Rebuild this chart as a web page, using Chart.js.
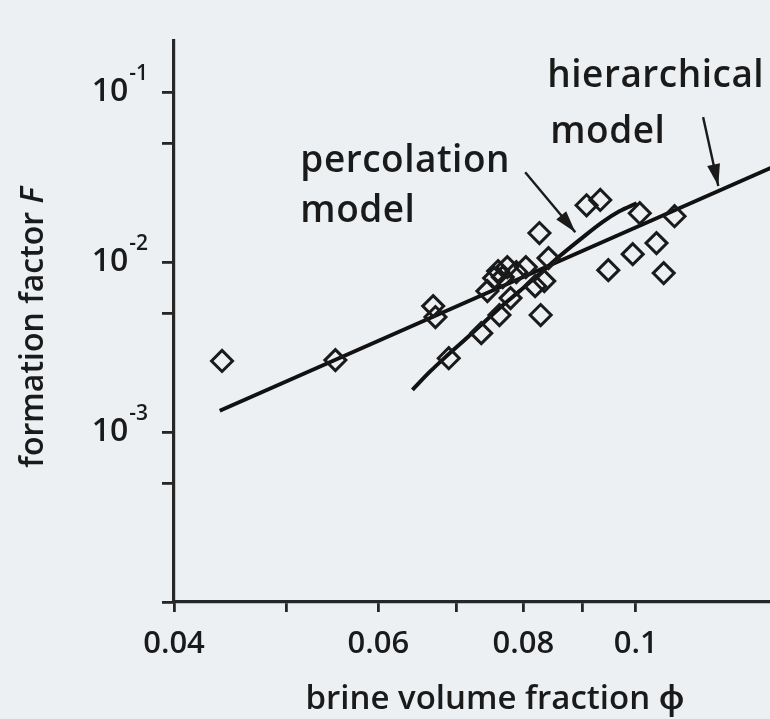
<!DOCTYPE html>
<html>
<head>
<meta charset="utf-8">
<script src="https://cdn.jsdelivr.net/npm/chart.js@4.4.1/dist/chart.umd.min.js"></script>
<style>
  html, body { margin: 0; padding: 0; background: #edf0f2; overflow: hidden; }
  #wrap { width: 830px; height: 719px; }
</style>
</head>
<body>
<div id="wrap"><canvas id="brineChart" width="830" height="719"></canvas></div>
<script>
// measured samples: brine volume fraction vs formation factor
const phiValues = [0.0440, 0.0551, 0.0669, 0.0672, 0.0690, 0.0736, 0.0745, 0.0763, 0.0761, 0.0768,
  0.0775, 0.0789, 0.0780, 0.0804, 0.0819, 0.0834, 0.0841, 0.0826, 0.0828, 0.0907,
  0.0932, 0.1008, 0.0947, 0.0994, 0.1042, 0.1057, 0.1080, 0.0755];
const fValues = [0.00262, 0.00265, 0.00551, 0.00475, 0.00272, 0.00382, 0.00675, 0.00488, 0.00885, 0.00816,
  0.00935, 0.00873, 0.00614, 0.00935, 0.00722, 0.00773, 0.01056, 0.01483, 0.00488, 0.0216,
  0.0232, 0.0194, 0.00897, 0.01114, 0.01294, 0.00862, 0.01862, 0.00805];

// model curves
const hierPhi = [0.0438, 0.1332];
const hierF = [0.001335, 0.0379];
const percPhi = [0.0642, 0.0664, 0.0687, 0.0712, 0.0734, 0.0763, 0.0794, 0.0826, 0.0860, 0.0894, 0.0936, 0.0968, 0.1002];
const percF = [0.00177, 0.00225, 0.0028, 0.00348, 0.0042, 0.00536, 0.00675, 0.0085, 0.01085, 0.01347, 0.0172, 0.0199, 0.0222];

// annotation arrows (start -> tip)
const percArrowPhi = [0.0803, 0.0887];
const percArrowF = [0.0338, 0.0150];
const hierArrowPhi = [0.1143, 0.1178];
const hierArrowF = [0.0713, 0.0280];

// axes
const phiTicks = [0.04, 0.05, 0.06, 0.07, 0.08, 0.09, 0.1];
const phiTickLabels = ["0.04", "", "0.06", "", "0.08", "", "0.1"];
const fTicks = [1e-4, 5e-4, 1e-3, 5e-3, 1e-2, 5e-2, 1e-1];
const fLabelValues = [1e-1, 1e-2, 1e-3];
const fLabelExponents = ["-1", "-2", "-3"];

// text notes
const noteText = ["hierarchical", "model", "percolation", "model"];
const notePhi = [0.0839, 0.0844, 0.0514, 0.0514];
const noteF = [0.107, 0.0505, 0.0338, 0.0172];

const xTitle = "brine volume fraction ϕ";
const yTitleMain = "formation factor ";
const yTitleSymbol = "F";

const ink = "#1a1a1a";
const fontFamily = "'Open Sans', 'Noto Sans', sans-serif";

function toPoints(xs, ys) {
  return xs.map((x, i) => ({ x: x, y: ys[i] }));
}

const arrowHeads = {
  id: "arrowHeads",
  afterDatasetsDraw(chart) {
    const c = chart.ctx;
    chart.data.datasets.forEach((ds, i) => {
      if (!ds.arrowHead) return;
      const pts = chart.getDatasetMeta(i).data;
      const tip = pts[pts.length - 1];
      const prev = pts[pts.length - 2];
      const a = Math.atan2(tip.y - prev.y, tip.x - prev.x);
      const len = 22;
      const half = 6.5;
      c.save();
      c.fillStyle = ink;
      c.beginPath();
      c.moveTo(tip.x, tip.y);
      c.lineTo(tip.x - len * Math.cos(a) + half * Math.sin(a), tip.y - len * Math.sin(a) - half * Math.cos(a));
      c.lineTo(tip.x - len * Math.cos(a) - half * Math.sin(a), tip.y - len * Math.sin(a) + half * Math.cos(a));
      c.closePath();
      c.fill();
      c.restore();
    });
  }
};

const textNotes = {
  id: "textNotes",
  afterDraw(chart) {
    const c = chart.ctx;
    const { x, y } = chart.scales;
    c.save();
    c.fillStyle = ink;
    c.font = "600 37px " + fontFamily;
    c.textAlign = "left";
    c.textBaseline = "alphabetic";
    if ("letterSpacing" in c) c.letterSpacing = "0.5px";
    noteText.forEach((t, i) => {
      c.fillText(t, x.getPixelForValue(notePhi[i]), y.getPixelForValue(noteF[i]));
    });
    c.restore();
  }
};

const powerLabels = {
  id: "powerLabels",
  afterDraw(chart) {
    const c = chart.ctx;
    const y = chart.scales.y;
    const right = y.right - 26;
    c.save();
    c.fillStyle = ink;
    c.textAlign = "right";
    c.textBaseline = "alphabetic";
    fLabelValues.forEach((v, i) => {
      const py = y.getPixelForValue(v);
      c.font = "600 21px " + fontFamily;
      c.fillText(fLabelExponents[i], right, py - 12);
      const w = c.measureText(fLabelExponents[i]).width;
      c.font = "600 32px " + fontFamily;
      c.fillText("10", right - w - 1, py + 9);
    });
    c.restore();
  }
};

const yTitle = {
  id: "yTitle",
  afterDraw(chart) {
    const c = chart.ctx;
    const { top, bottom } = chart.chartArea;
    c.save();
    c.translate(43, (top + bottom) / 2 + 6);
    c.rotate(-Math.PI / 2);
    c.fillStyle = ink;
    c.textAlign = "left";
    c.textBaseline = "alphabetic";
    c.font = "600 32px " + fontFamily;
    const w1 = c.measureText(yTitleMain).width;
    c.font = "italic 600 32px " + fontFamily;
    const w2 = c.measureText(yTitleSymbol).width;
    const x0 = -(w1 + w2) / 2;
    c.font = "600 32px " + fontFamily;
    c.fillText(yTitleMain, x0, 0);
    c.font = "italic 600 32px " + fontFamily;
    c.fillText(yTitleSymbol, x0 + w1, 0);
    c.restore();
  }
};

Chart.defaults.font.family = fontFamily;

const ctx = document.getElementById("brineChart").getContext("2d");
const brineChart = new Chart(ctx, {
  type: "scatter",
  plugins: [arrowHeads, textNotes, powerLabels, yTitle],
  data: {
    datasets: [
      {
        label: "samples",
        data: toPoints(phiValues, fValues),
        pointStyle: "rectRot",
        pointRadius: 10.5,
        borderWidth: 3,
        borderColor: ink,
        backgroundColor: "rgba(0,0,0,0)"
      },
      {
        label: "hierarchical model",
        data: toPoints(hierPhi, hierF),
        showLine: true,
        pointRadius: 0,
        borderColor: "#111111",
        borderWidth: 4
      },
      {
        label: "percolation model",
        data: toPoints(percPhi, percF),
        showLine: true,
        pointRadius: 0,
        cubicInterpolationMode: "monotone",
        borderColor: "#111111",
        borderWidth: 4
      },
      {
        label: "percolation arrow",
        data: toPoints(percArrowPhi, percArrowF),
        showLine: true,
        arrowHead: true,
        pointRadius: 0,
        borderColor: ink,
        borderWidth: 2.4
      },
      {
        label: "hierarchical arrow",
        data: toPoints(hierArrowPhi, hierArrowF),
        showLine: true,
        arrowHead: true,
        pointRadius: 0,
        borderColor: ink,
        borderWidth: 2.4
      }
    ]
  },
  options: {
    responsive: false,
    animation: false,
    events: [],
    layout: {
      padding: { top: 41, right: 14, bottom: 0, left: 0 }
    },
    plugins: {
      legend: { display: false },
      tooltip: { enabled: false }
    },
    scales: {
      x: {
        type: "logarithmic",
        min: 0.04,
        max: 0.143,
        afterBuildTicks: (axis) => {
          axis.ticks = phiTicks.map((v) => ({ value: v }));
        },
        afterFit: (axis) => {
          axis.height = 117;
        },
        border: { display: true, color: "#262626", width: 3.2 },
        grid: { drawOnChartArea: false, drawTicks: true, tickLength: 10, color: "#262626", lineWidth: 2.8 },
        ticks: {
          autoSkip: false,
          maxRotation: 0,
          padding: 14,
          color: ink,
          font: { size: 31, weight: "600" },
          callback: function (value) {
            const i = phiTicks.findIndex((t) => Math.abs(t - value) < 1e-9);
            return i >= 0 ? phiTickLabels[i] : "";
          }
        },
        title: {
          display: true,
          text: xTitle,
          color: ink,
          font: { size: 33, weight: "600" },
          padding: { top: 0, bottom: 0 }
        }
      },
      y: {
        type: "logarithmic",
        min: 1e-4,
        max: 0.2,
        afterBuildTicks: (axis) => {
          axis.ticks = fTicks.map((v) => ({ value: v }));
        },
        afterFit: (axis) => {
          axis.width = 174;
        },
        border: { display: true, color: "#262626", width: 3.2 },
        grid: { drawOnChartArea: false, drawTicks: true, tickLength: 12, color: "#262626", lineWidth: 2.8 },
        ticks: { display: false }
      }
    }
  }
});
</script>
</body>
</html>
